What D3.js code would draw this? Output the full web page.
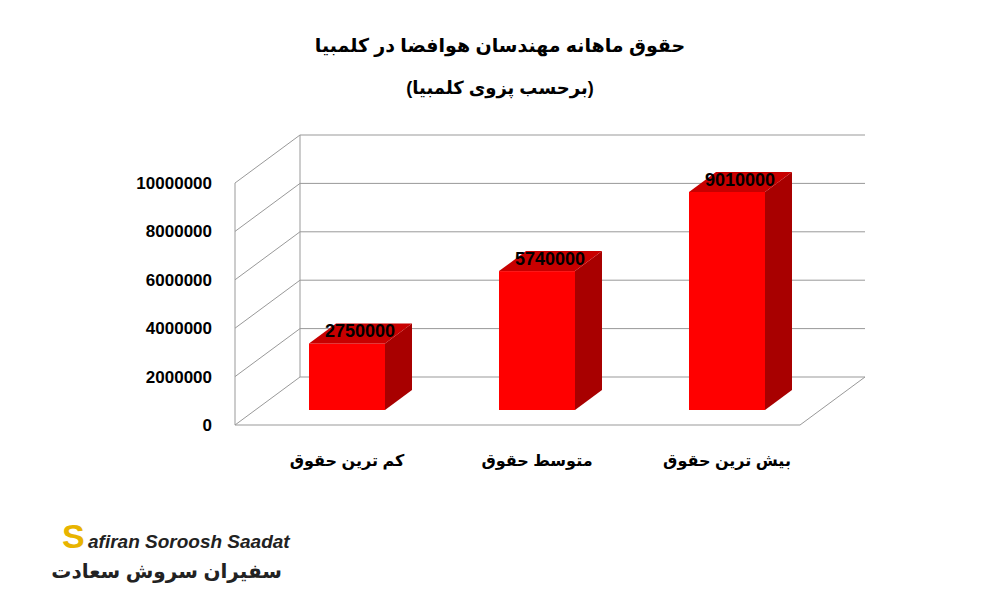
<!DOCTYPE html><html><head><meta charset="utf-8"><script src="https://cdn.jsdelivr.net/npm/d3@7"></script>
<style>body{margin:0;background:#fff}</style></head><body><svg width="1000" height="600"></svg><script>
const categories=["کم ترین حقوق","متوسط حقوق","بیش ترین حقوق"];
const values=[2750000,5740000,9010000];
const ticks=[0,2000000,4000000,6000000,8000000,10000000];
const svg=d3.select("svg");
const y=d3.scaleLinear().domain([0,10000000]).range([425,183]);
const dx=65,dy=-48;
const x=d3.scaleBand().domain(categories).range([252,822]).paddingInner(0.6).paddingOuter(0.3);
const font="Arial, 'DejaVu Sans', sans-serif";
const g=svg.append("g").attr("stroke","#999").attr("fill","none").attr("stroke-width",1);
ticks.forEach(t=>{
  const yf=y(t);
  g.append("line").attr("x1",235).attr("y1",yf).attr("x2",235+dx).attr("y2",yf+dy);
  g.append("line").attr("x1",235+dx).attr("y1",yf+dy).attr("x2",865).attr("y2",yf+dy);
});
g.append("line").attr("x1",235).attr("y1",y(0)).attr("x2",235).attr("y2",y(10000000));
g.append("line").attr("x1",235+dx).attr("y1",y(0)+dy).attr("x2",235+dx).attr("y2",y(10000000)+dy);
g.append("line").attr("x1",235).attr("y1",425).attr("x2",800).attr("y2",425);
g.append("line").attr("x1",800).attr("y1",425).attr("x2",865).attr("y2",377);
svg.append("g").selectAll("text").data(ticks).join("text").attr("x",212).attr("y",d=>y(d)+6)
 .attr("text-anchor","end").attr("font-family",font).attr("font-weight","bold").attr("font-size",17).text(d=>d);
const base=410, bdx=27,bdy=-20, bw=x.bandwidth();
const yb=d3.scaleLinear().domain([0,10000000]).range([base,base-242]);
categories.forEach((c,i)=>{
  const x0=x(c), top=yb(values[i]);
  svg.append("rect").attr("x",x0).attr("y",top).attr("width",bw).attr("height",base-top).attr("fill","#ff0000");
  svg.append("polygon").attr("points",`${x0+bw},${top} ${x0+bw+bdx},${top+bdy} ${x0+bw+bdx},${base+bdy} ${x0+bw},${base}`).attr("fill","#a80000");
  svg.append("polygon").attr("points",`${x0},${top} ${x0+bdx},${top+bdy} ${x0+bw+bdx},${top+bdy} ${x0+bw},${top}`).attr("fill","#c80000");
  svg.append("text").attr("x",x0+bw/2+13).attr("y",top-6).attr("text-anchor","middle").attr("font-family",font)
   .attr("font-weight","bold").attr("font-size",18).text(values[i]);
  svg.append("text").attr("x",x0+bw/2).attr("y",466).attr("text-anchor","middle").attr("font-family",font)
   .attr("font-weight","bold").attr("font-size",16).text(c);
});
svg.append("text").attr("x",500).attr("y",52).attr("text-anchor","middle").attr("font-family",font).attr("font-weight","bold").attr("font-size",19).text("حقوق ماهانه مهندسان هوافضا در کلمبیا");
svg.append("text").attr("x",500).attr("y",94).attr("text-anchor","middle").attr("direction","rtl").attr("font-family",font).attr("font-weight","bold").attr("font-size",18).text("(برحسب پزوی کلمبیا)");
svg.append("text").attr("x",88).attr("y",548).attr("font-family",font).attr("font-weight","bold").attr("font-style","italic").attr("font-size",19).attr("fill","#222").text("afiran Soroosh Saadat");
svg.append("text").attr("x",282).attr("y",578).attr("text-anchor","end").attr("font-family",font).attr("font-weight","bold").attr("font-size",20).attr("fill","#222").text("سفیران سروش سعادت");
svg.append("text").attr("x",62).attr("y",548).attr("font-family",font).attr("font-weight","bold").attr("font-size",34).attr("fill","#e8b400").text("S");
</script></body></html>
